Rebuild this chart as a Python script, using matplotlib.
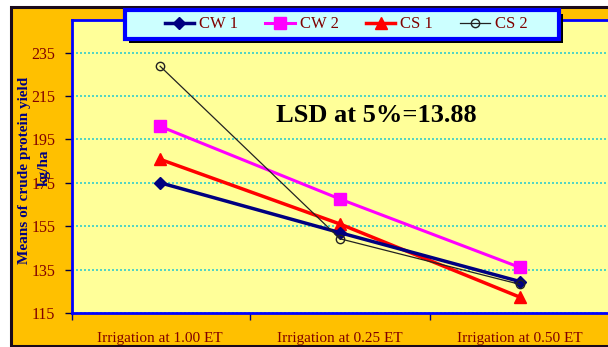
import matplotlib
matplotlib.use('Agg')
import matplotlib.pyplot as plt
from matplotlib.patches import Rectangle

# values
categories = ['Irrigation at 1.00 ET', 'Irrigation at 0.25 ET', 'Irrigation at 0.50 ET']
cw1 = [175, 152, 129.5]
cw2 = [201, 167.5, 136]
cs1 = [185.8, 156, 122.3]
cs2 = [228.7, 149.2, 128.2]
yticks = [115, 135, 155, 175, 195, 215, 235]

plt.rcParams['font.family'] = ['Liberation Serif', 'DejaVu Serif']
maroon = '#800000'
W, H = 608, 347

fig = plt.figure(figsize=(6.08, 3.47), dpi=100, facecolor='white')

# orange chart background with dark border
fig.patches.append(Rectangle((11 / W, 1 / H), 1.0, 1 - 8 / H, transform=fig.transFigure,
                             facecolor='#FFC000', edgecolor='#1a0a1a', lw=2.2, zorder=-5))

ax = fig.add_axes([72 / W, 1 - 313 / H, 1 - 72 / W, (313 - 20) / H])
ax.set_zorder(1)
ax.set_facecolor('#FFFF99')

x = range(len(categories))
ax.plot(x, cw1, color='#000080', lw=2.5, marker='D', ms=6.5, label='CW 1', zorder=4)
ax.plot(x, cw2, color='#FF00FF', lw=2.2, marker='s', ms=8, label='CW 2', zorder=3)
ax.plot(x, cs1, color='#FF0000', lw=2.5, marker='^', ms=8.5, label='CS 1', zorder=3)
ax.plot(x, cs2, color='#222222', lw=0.9, marker='o', ms=6, mfc='none', mew=1,
        label='CS 2', zorder=5)

ax.set_xlim(-0.49, 2.49)
ax.set_ylim(115, 250)
ax.set_yticks(yticks)
ax.set_yticklabels([str(v) for v in yticks], color=maroon, fontsize=11.5)
ax.set_xticks(list(x))
ax.set_xticklabels(categories, color=maroon, fontsize=11)
ax.set_xticks([-0.49, 0.5, 1.5], minor=True)
ax.tick_params(axis='x', which='major', length=0, pad=14)
ax.tick_params(axis='x', which='minor', length=5, color='#000080', width=1)
ax.tick_params(axis='y', length=5, color='#000040', width=1, pad=7)

ax.grid(axis='y', color='#33CCCC', lw=1.2, linestyle=(0, (1.2, 1.2)))
ax.set_axisbelow(True)

for side in ['left', 'bottom', 'top']:
    ax.spines[side].set_color('#0000FF')
    ax.spines[side].set_linewidth(2)
ax.spines['right'].set_visible(False)

fig.text(376 / W, 1 - 116 / H, 'LSD at 5%=13.88', fontsize=19, fontweight='bold',
         ha='center', va='center', color='black', zorder=5)

# y label in two lines like the original
fig.text(25 / W, 1 - 170 / H, 'Means of crude protein yield', rotation=90,
         fontsize=11, fontweight='bold', color='#000080', ha='center', va='center', zorder=5)
fig.text(44 / W, 1 - 168 / H, 'kg/ha', rotation=90,
         fontsize=11, fontweight='bold', color='#000080', ha='center', va='center', zorder=5)

# legend box with black shadow
fig.patches.append(Rectangle((129 / W, 1 - 43 / H), (559 - 125) / W, 29 / H,
                             transform=fig.transFigure, facecolor='black', edgecolor='none',
                             zorder=8))
fig.patches.append(Rectangle((125 / W, 1 - 39 / H), (559 - 125) / W, 29 / H,
                             transform=fig.transFigure, facecolor='#CCFFFF',
                             edgecolor='#0000FF', lw=3, zorder=9))
leg = fig.legend(loc='center', ncol=4,
                 bbox_to_anchor=(129 / W, 1 - 39 / H, (559 - 125) / W, 29 / H),
                 frameon=False, fontsize=12,
                 handlelength=1.75, handletextpad=0.3, columnspacing=1.65,
                 borderaxespad=0, borderpad=0.2)
leg.set_zorder(10)
for t in leg.get_texts():
    t.set_color(maroon)

plt.savefig('out.png', dpi=100, facecolor=fig.get_facecolor())
plt.close()
